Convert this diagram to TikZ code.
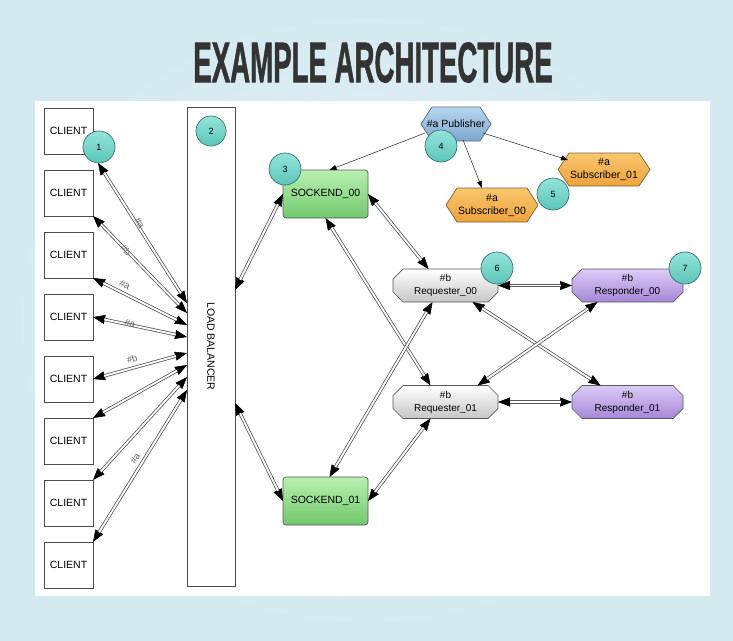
\documentclass[tikz,border=0pt]{standalone}
\usepackage{fontspec}
\usepackage{graphicx}
\setmainfont{Liberation Sans}
\newfontfamily\titlefont{Liberation Sans}[FakeBold=1.5]
\usetikzlibrary{arrows.meta,shapes.misc,calc}

\definecolor{bgin}{HTML}{EAF5F9}
\definecolor{bgout}{HTML}{D4E9F0}
\definecolor{ink}{HTML}{333333}
\definecolor{sockT}{HTML}{B8F0B2}
\definecolor{sockB}{HTML}{72C86C}
\definecolor{pubT}{HTML}{B8D6EF}
\definecolor{pubB}{HTML}{7EA7CE}
\definecolor{pubD}{HTML}{4F6E8E}
\definecolor{subT}{HTML}{F8C66E}
\definecolor{subB}{HTML}{EEA33C}
\definecolor{subD}{HTML}{7B6233}
\definecolor{reqB}{HTML}{C6C6C6}
\definecolor{respT}{HTML}{DCCBF7}
\definecolor{respB}{HTML}{A687D6}
\definecolor{badgeT}{HTML}{93E4DA}
\definecolor{badgeB}{HTML}{5CC6B9}
\definecolor{badgeD}{HTML}{3B706B}

\pgfdeclarelayer{shapes}
\pgfsetlayers{shapes,main}

\begin{document}
\begin{tikzpicture}[x=1pt,y=-1pt,
  every node/.style={inner sep=0pt, outer sep=0pt},
  client/.style={draw=black!70, fill=white, line width=0.7pt,
    minimum width=49pt, minimum height=46pt, font=\fontsize{10.5}{12}\selectfont},
  lbbox/.style={draw=black!70, fill=white, line width=0.7pt,
    minimum width=48pt, minimum height=479pt},
  sock/.style={draw=black!65, line width=0.7pt, rounded corners=3pt,
    top color=sockT, bottom color=sockB, minimum width=85pt, minimum height=48pt,
    font=\fontsize{10.5}{12}\selectfont},
  octo/.style={chamfered rectangle, chamfered rectangle xsep=5pt,
    chamfered rectangle ysep=5pt, draw=black!65, line width=0.7pt,
    minimum height=33pt, align=center, font=\fontsize{10}{13}\selectfont},
  req/.style={octo, top color=white, bottom color=reqB, minimum width=105pt},
  resp/.style={octo, top color=respT, bottom color=respB, minimum width=111pt},
  hexlbl/.style={minimum height=34pt, align=center, font=\fontsize{10.5}{13}\selectfont},
  pubhex/.style={draw=pubD, line width=0.7pt, top color=pubT, bottom color=pubB},
  subhex/.style={draw=subD, line width=0.7pt, top color=subT, bottom color=subB},
  badge/.style={circle, draw=badgeD, line width=0.7pt, top color=badgeT,
    bottom color=badgeB, minimum size=32pt, font=\fontsize{9}{10}\selectfont},
  % solid tips on a thin core, with the hollow double shaft laid over the core
  link/.style={draw=black, line width=0.5pt,
    {Triangle[length=12pt,width=9pt]}-{Triangle[length=12pt,width=9pt]},
    postaction={draw=black!65, line width=0.8pt, double=white, double distance=1.8pt,
      shorten <=11.5pt, shorten >=11.5pt, arrows=-}},
  feed/.style={draw=black!75, line width=0.6pt, -{Triangle[length=7pt,width=5pt,color=black]}},
  tag/.style={font=\fontsize{9.5}{10}\selectfont, text=black!60, sloped, anchor=center},
]
\useasboundingbox (0,0) rectangle (733,640);

% backdrop and white panel
\begin{pgfonlayer}{shapes}
  \shade[inner color=bgin, outer color=bgout] (0,0) rectangle (733,640);
  \fill[white] (35,101) rectangle (710,596);
\end{pgfonlayer}

% heading
\node[text=ink] (title) at (373,62.5)
  {\scalebox{0.485}[1]{\fontsize{57}{57}\titlefont\bfseries EXAMPLE ARCHITECTURE}};

% clients
\foreach \i/\y in {1/131,2/193,3/255,4/317,5/379,6/441,7/503,8/565}
  \node[client] (c\i) at (68.5,\y) {CLIENT};

% load balancer
\node[lbbox] (lb) at (211,346.5) {};
\node[rotate=-90, font=\fontsize{10.5}{12}\selectfont] (lbtext) at (lb.center) {LOAD BALANCER};

% socket endpoints
\node[sock] (s0) at (325.5,194) {SOCKEND\_00};
\node[sock] (s1) at (325.5,501) {SOCKEND\_01};

% publisher and subscribers
\node[hexlbl, minimum width=70pt] (pub) at (456,124) {\#a Publisher};
\node[hexlbl, minimum width=92pt, minimum height=33pt] (sub1) at (604,169.5) {\#a\\Subscriber\_01};
\node[hexlbl, minimum width=92pt] (sub0) at (492,205) {\#a\\Subscriber\_00};
\begin{pgfonlayer}{shapes}
  \path[pubhex] (pub.west) -- ([xshift=11pt]pub.north west) -- ([xshift=-11pt]pub.north east)
    -- (pub.east) -- ([xshift=-11pt]pub.south east) -- ([xshift=11pt]pub.south west) -- cycle;
  \path[subhex] (sub1.west) -- ([xshift=11pt]sub1.north west) -- ([xshift=-11pt]sub1.north east)
    -- (sub1.east) -- ([xshift=-11pt]sub1.south east) -- ([xshift=11pt]sub1.south west) -- cycle;
  \path[subhex] (sub0.west) -- ([xshift=11pt]sub0.north west) -- ([xshift=-11pt]sub0.north east)
    -- (sub0.east) -- ([xshift=-11pt]sub0.south east) -- ([xshift=11pt]sub0.south west) -- cycle;
\end{pgfonlayer}

% requesters and responders
\node[req] (r0) at (445.5,285.5) {\#b\\Requester\_00};
\node[req] (r1) at (445.5,402) {\#b\\Requester\_01};
\node[resp] (p0) at (627.5,285.5) {\#b\\Responder\_00};
\node[resp] (p1) at (627.5,402) {\#b\\Responder\_01};

% clients to load balancer
\draw[link] ([shift={(5pt,-9pt)}]c1.south east) -- ([yshift=-196pt]lb.north west)
  node[tag, pos=0.44, yshift=3pt] {\#a};
\draw[link] (c2.south east) -- ([yshift=-206pt]lb.north west)
  node[tag, pos=0.35] {\#b};
\draw[link] (c3.south east) -- ([yshift=-218pt]lb.north west)
  node[tag, pos=0.30, yshift=8pt] {\#a};
\draw[link] (c4.east) -- ([yshift=-230pt]lb.north west)
  node[tag, pos=0.39, yshift=1pt] {\#a};
\draw[link] (c5.east) -- ([yshift=-246pt]lb.north west)
  node[tag, pos=0.44, yshift=9pt] {\#b};
\draw[link] (c6.north east) -- ([yshift=-258pt]lb.north west);
\draw[link] (c7.north east) -- ([yshift=-270pt]lb.north west);
\draw[link] (c8.north east) -- ([yshift=-283pt]lb.north west)
  node[tag, pos=0.52, yshift=8pt] {\#a};

% load balancer to socket endpoints
\draw[link] ([yshift=-183pt]lb.north east) -- (s0.west);
\draw[link] ([yshift=-296pt]lb.north east) -- (s1.west);

% socket endpoints to requesters
\draw[link] (s0.east) -- ([xshift=-17pt]r0.north);
\draw[link] (s0.south) -- ([xshift=-15pt]r1.north);
\draw[link] ([xshift=4pt]s1.north) -- ([xshift=-13pt]r0.south);
\draw[link] (s1.east) -- ([xshift=-15pt]r1.south);

% requesters to responders
\draw[link] (r0.east) -- (p0.west);
\draw[link] (r1.east) -- (p1.west);
\draw[link] ([xshift=27pt]r0.south) -- ([xshift=-27pt]p1.north);
\draw[link] ([xshift=32pt]r1.north) -- ([xshift=-30pt]p0.south);

% publisher feeds
\draw[feed] ([shift={(-31pt,-9pt)}]pub.center) -- ([xshift=4pt]s0.north);
\draw[feed] ([shift={(7pt,-16pt)}]pub.center) -- ([xshift=-10pt]sub0.north);
\draw[feed] ([shift={(27pt,-9pt)}]pub.center) -- ([shift={(-36pt,9.5pt)}]sub1.center);

% numbered markers
\node[badge] (b1) at (99,147) {1};
\node[badge, minimum size=30pt] (b2) at (211,131) {2};
\node[badge] (b3) at (285,169) {3};
\node[badge] (b4) at (441,146) {4};
\node[badge] (b5) at (553,194) {5};
\node[badge] (b6) at (497,268) {6};
\node[badge] (b7) at (685,268) {7};
\end{tikzpicture}
\end{document}
